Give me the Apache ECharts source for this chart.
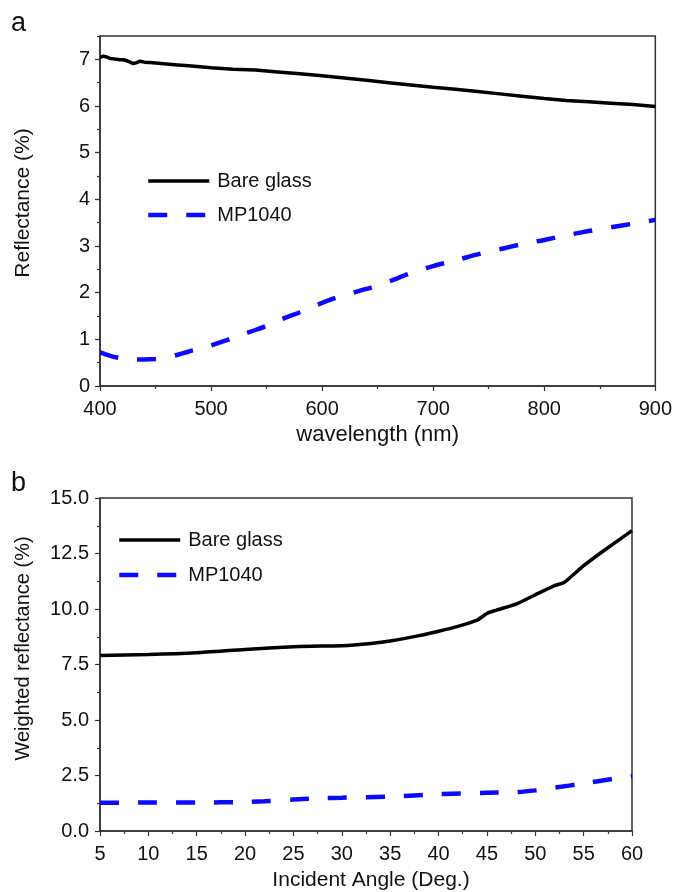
<!DOCTYPE html>
<html>
<head>
<meta charset="utf-8">
<script src="https://cdn.jsdelivr.net/npm/echarts@6/dist/echarts.min.js"></script>
<style>
  html, body { margin: 0; padding: 0; background: #fff; }
  #chart { width: 675px; height: 892px; }
</style>
</head>
<body>
<div id="chart"></div>
<script>
// ---- Panel a: reflectance spectra ----
const wavelengthBare = [400, 403, 406, 409, 412, 415, 418, 421, 424, 427, 430, 433, 436, 440, 445, 450, 460, 470, 480, 490,
  500, 520, 540, 560, 580, 600, 620, 640, 660, 680, 700, 720, 740, 760, 780, 800, 820, 840, 860, 880, 900];
const reflBare = [7.04, 7.07, 7.05, 7.02, 7.01, 7.00, 6.99, 6.99, 6.97, 6.94, 6.91, 6.93, 6.96, 6.94, 6.93, 6.92, 6.90, 6.88, 6.86, 6.84,
  6.82, 6.79, 6.77, 6.73, 6.69, 6.65, 6.60, 6.55, 6.50, 6.45, 6.40, 6.36, 6.31, 6.26, 6.21, 6.16, 6.12, 6.09, 6.06, 6.03, 5.99];

const wavelengthMP = [400, 405, 410, 420, 430, 440, 450, 460, 470, 480, 490, 500, 510, 520, 530, 540, 550, 560, 570, 580,
  590, 600, 610, 620, 640, 660, 680, 700, 720, 740, 760, 780, 800, 820, 840, 860, 880, 900];
const reflMP = [0.72, 0.68, 0.64, 0.59, 0.57, 0.57, 0.58, 0.61, 0.67, 0.74, 0.80, 0.87, 0.95, 1.03, 1.12, 1.20, 1.29, 1.40, 1.49, 1.58,
  1.68, 1.78, 1.87, 1.95, 2.08, 2.24, 2.42, 2.57, 2.69, 2.82, 2.93, 3.04, 3.13, 3.23, 3.32, 3.40, 3.48, 3.56];

const xTicksA = [400, 500, 600, 700, 800, 900];
const yTicksA = [0, 1, 2, 3, 4, 5, 6, 7];

// ---- Panel b: weighted reflectance vs. incident angle ----
const angleBare = [5, 10, 15, 20, 25, 28, 30, 33, 35, 38, 40, 42, 44, 45, 46, 48, 50, 52, 53, 55, 57, 60];
const weightedBare = [7.91, 7.95, 8.03, 8.18, 8.30, 8.33, 8.34, 8.45, 8.56, 8.80, 9.00, 9.22, 9.50, 9.80, 9.95, 10.22, 10.64, 11.05, 11.20, 11.95, 12.60, 13.53];

const angleMP = [5, 10, 15, 20, 22, 25, 28, 30, 35, 40, 45, 48, 50, 52, 55, 58, 60];
const weightedMP = [1.27, 1.28, 1.28, 1.31, 1.34, 1.42, 1.48, 1.50, 1.55, 1.66, 1.72, 1.75, 1.83, 1.95, 2.14, 2.35, 2.47];

const xTicksB = [5, 10, 15, 20, 25, 30, 35, 40, 45, 50, 55, 60];
const yTicksB = ['0.0', '2.5', '5.0', '7.5', '10.0', '12.5', '15.0'];

const seriesNames = ['Bare glass', 'MP1040'];

const FONT = 'Arial, "Liberation Sans", Helvetica, sans-serif';
const AXIS_COLOR = '#333';
const BLUE = '#0a0aff';
const DASH = [19, 19];

function pairs(xs, ys) { return xs.map((x, i) => [x, ys[i]]); }

const gridA = { left: 100, top: 36, width: 556, height: 350 };
const gridB = { left: 100, top: 498, width: 532, height: 335 };

function baseAxis(extra) {
  return Object.assign({
    type: 'value',
    axisLine: { show: true, lineStyle: { color: AXIS_COLOR, width: 1.5 } },
    axisTick: { show: true, inside: false, length: 5, lineStyle: { color: AXIS_COLOR, width: 1.2 } },
    minorTick: { show: true, splitNumber: 2, length: 3, lineStyle: { color: AXIS_COLOR, width: 1.2 } },
    splitLine: { show: false },
    axisLabel: { color: '#111', fontFamily: FONT, fontSize: 20 },
    nameTextStyle: { color: '#111', fontFamily: FONT, fontSize: 21 },
    nameLocation: 'middle'
  }, extra);
}

const chart = echarts.init(document.getElementById('chart'), null, { renderer: 'canvas' });

const legendCommon = {
  orient: 'vertical',
  padding: 0,
  itemWidth: 61,
  itemHeight: 20,
  itemStyle: { opacity: 0 },
  lineStyle: { width: 'inherit', type: 'inherit', color: 'inherit' },
  textStyle: { color: '#111', fontFamily: FONT, fontSize: 20, padding: [0, 0, 0, 3] },
  selectedMode: false,
  data: seriesNames
};

const option = {
  animation: false,
  backgroundColor: '#fff',
  grid: [
    Object.assign({ show: true, borderColor: AXIS_COLOR, borderWidth: 1.5, backgroundColor: 'transparent' }, gridA),
    Object.assign({ show: true, borderColor: AXIS_COLOR, borderWidth: 1.5, backgroundColor: 'transparent' }, gridB),
    // overlay grid carrying the half-unit ticks of panel a's y axis
    Object.assign({ show: false }, gridA)
  ],
  legend: [
    Object.assign({}, legendCommon, { left: 146, top: 171, itemGap: 14 }),
    Object.assign({}, legendCommon, { left: 117, top: 530, itemGap: 15 })
  ],
  xAxis: [
    baseAxis({
      gridIndex: 0, min: xTicksA[0], max: xTicksA[xTicksA.length - 1], interval: 100,
      name: 'wavelength (nm)', nameGap: 38,
      nameTextStyle: { color: '#111', fontFamily: FONT, fontSize: 22 },
      axisLabel: { color: '#111', fontFamily: FONT, fontSize: 20, margin: 13 }
    }),
    baseAxis({
      gridIndex: 1, min: xTicksB[0], max: xTicksB[xTicksB.length - 1], interval: 5,
      name: 'Incident Angle (Deg.)', nameGap: 39,
      nameTextStyle: { color: '#111', fontFamily: FONT, fontSize: 21, padding: [0, 0, 0, 10] },
      axisLabel: { color: '#111', fontFamily: FONT, fontSize: 20, margin: 13 }
    }),
    { type: 'value', gridIndex: 2, min: 400, max: 900, show: false }
  ],
  yAxis: [
    baseAxis({
      gridIndex: 0, min: yTicksA[0], max: 7.5, interval: 1,
      name: 'Reflectance (%)', nameGap: 66,
      nameTextStyle: { color: '#111', fontFamily: FONT, fontSize: 21, padding: [0, 0, 0, 16] },
      minorTick: { show: false },
      axisLabel: { color: '#111', fontFamily: FONT, fontSize: 20, margin: 10, showMaxLabel: false }
    }),
    baseAxis({
      gridIndex: 1, min: 0, max: Number(yTicksB[yTicksB.length - 1]), interval: 2.5,
      name: 'Weighted reflectance (%)', nameGap: 67,
      nameTextStyle: { color: '#111', fontFamily: FONT, fontSize: 20, padding: [0, 0, 0, 32] },
      axisLabel: { color: '#111', fontFamily: FONT, fontSize: 20, margin: 11,
        formatter: v => v.toFixed(1) }
    }),
    {
      type: 'value', gridIndex: 2, min: 0, max: 7.5, interval: 0.5,
      axisLine: { show: false },
      axisLabel: { show: false },
      splitLine: { show: false },
      axisTick: { show: true, length: 3, lineStyle: { color: AXIS_COLOR, width: 1.2 } }
    }
  ],
  graphic: [
    { type: 'text', left: 11, top: 10, style: { text: 'a', font: '27px ' + FONT, fill: '#111' } },
    { type: 'text', left: 11, top: 470, style: { text: 'b', font: '27px ' + FONT, fill: '#111' } }
  ],
  series: [
    {
      name: seriesNames[0], type: 'line', xAxisIndex: 0, yAxisIndex: 0,
      data: pairs(wavelengthBare, reflBare), symbol: 'none',
      lineStyle: { color: '#000', width: 3.5 }, itemStyle: { color: '#000' }, z: 3
    },
    {
      name: seriesNames[1], type: 'line', xAxisIndex: 0, yAxisIndex: 0,
      data: pairs(wavelengthMP, reflMP), symbol: 'none', smooth: 0.3,
      lineStyle: { color: BLUE, width: 4.5, type: DASH }, itemStyle: { color: BLUE }, z: 3
    },
    {
      name: seriesNames[0], type: 'line', xAxisIndex: 1, yAxisIndex: 1,
      data: pairs(angleBare, weightedBare), symbol: 'none', smooth: 0.2,
      lineStyle: { color: '#000', width: 3.5 }, itemStyle: { color: '#000' }, z: 3
    },
    {
      name: seriesNames[1], type: 'line', xAxisIndex: 1, yAxisIndex: 1,
      data: pairs(angleMP, weightedMP), symbol: 'none', smooth: 0.3,
      lineStyle: { color: BLUE, width: 4.5, type: DASH }, itemStyle: { color: BLUE }, z: 3
    }
  ]
};

chart.setOption(option);
</script>
</body>
</html>
